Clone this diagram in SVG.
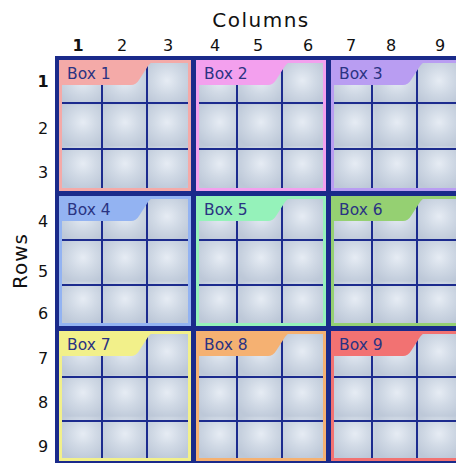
<svg xmlns="http://www.w3.org/2000/svg" width="456" height="463" viewBox="0 0 456 463">
<style>
  .lbl { font-family: "DejaVu Sans", "Open Sans", sans-serif; font-size: 15.5px; fill: #2a3382; }
  .num { font-family: "DejaVu Sans", "Open Sans", sans-serif; font-size: 16px; fill: #111; text-anchor: middle; }
  .big { font-family: "DejaVu Sans", "Open Sans", sans-serif; font-size: 20px; fill: #111; text-anchor: middle; }
  .grid { stroke: #1c2b8e; stroke-width: 2; fill: none; }
  .cells { fill: url(#cells); }
</style>
<defs>
  <radialGradient id="glow" cx="0.5" cy="0.42" r="0.65">
    <stop offset="0" stop-color="#e6ecf4"/>
    <stop offset="0.5" stop-color="#d0d9e5"/>
    <stop offset="1" stop-color="#bdc8d8"/>
  </radialGradient>
  <pattern id="cells" patternUnits="objectBoundingBox" width="0.33333" height="0.33333" patternContentUnits="objectBoundingBox">
    <rect width="0.33333" height="0.33333" fill="url(#glow)"/>
  </pattern>
  <path id="banner" d="M0 0 H97 Q93 1 89 6 L80 20 Q77 25 72 25 H0 Z"/>
</defs>
<rect width="456" height="463" fill="#ffffff"/>

<text class="big" x="261" y="27" letter-spacing="1.5">Columns</text>
<text class="big" transform="translate(27 261) rotate(-90)" letter-spacing="1">Rows</text>

<g id="col-labels">
  <text class="num" x="78" y="51" font-weight="bold" font-size="18">1</text>
  <text class="num" x="122" y="51">2</text>
  <text class="num" x="168" y="51">3</text>
  <text class="num" x="215" y="51">4</text>
  <text class="num" x="258" y="51">5</text>
  <text class="num" x="308" y="51">6</text>
  <text class="num" x="351" y="51">7</text>
  <text class="num" x="391" y="51">8</text>
  <text class="num" x="440" y="51">9</text>
</g>
<g id="row-labels">
  <text class="num" x="43" y="87" font-weight="bold" font-size="18">1</text>
  <text class="num" x="43" y="134">2</text>
  <text class="num" x="43" y="178">3</text>
  <text class="num" x="43" y="227">4</text>
  <text class="num" x="43" y="277">5</text>
  <text class="num" x="43" y="319">6</text>
  <text class="num" x="43" y="364">7</text>
  <text class="num" x="43" y="408">8</text>
  <text class="num" x="43" y="452">9</text>
</g>

<g id="frame">
  <rect x="55" y="56" width="420" height="420" fill="#1a2a8a"/>
</g>

<g id="box1" transform="translate(59 60)">
  <rect width="132" height="131" fill="#f4aaa8"/>
  <rect class="cells" x="3" y="3" width="126" height="125"/>
  <path class="grid" d="M43 3 V128 M88 3 V128 M3 43 H129 M3 89 H129"/>
  <use href="#banner" fill="#f4aaa8"/>
  <text class="lbl" x="8" y="19">Box 1</text>
</g>
<g id="box2" transform="translate(196 60)">
  <rect width="130" height="131" fill="#f3a0ee"/>
  <rect class="cells" x="3" y="3" width="124" height="125"/>
  <path class="grid" d="M41 3 V128 M86 3 V128 M3 43 H127 M3 89 H127"/>
  <use href="#banner" fill="#f3a0ee"/>
  <text class="lbl" x="8" y="19">Box 2</text>
</g>
<g id="box3" transform="translate(331 60)">
  <rect width="132" height="131" fill="#b99df2"/>
  <rect class="cells" x="3" y="3" width="126" height="125"/>
  <path class="grid" d="M41 3 V128 M86 3 V128 M3 43 H129 M3 89 H129"/>
  <use href="#banner" fill="#b99df2"/>
  <text class="lbl" x="8" y="19">Box 3</text>
</g>
<g id="box4" transform="translate(59 196)">
  <rect width="132" height="130" fill="#93b3f2"/>
  <rect class="cells" x="3" y="3" width="126" height="124"/>
  <path class="grid" d="M43 3 V127 M88 3 V127 M3 44 H129 M3 89 H129"/>
  <use href="#banner" fill="#93b3f2"/>
  <text class="lbl" x="8" y="19">Box 4</text>
</g>
<g id="box5" transform="translate(196 196)">
  <rect width="130" height="130" fill="#95f2ba"/>
  <rect class="cells" x="3" y="3" width="124" height="124"/>
  <path class="grid" d="M41 3 V127 M86 3 V127 M3 44 H127 M3 89 H127"/>
  <use href="#banner" fill="#95f2ba"/>
  <text class="lbl" x="8" y="19">Box 5</text>
</g>
<g id="box6" transform="translate(331 196)">
  <rect width="132" height="130" fill="#95d072"/>
  <rect class="cells" x="3" y="3" width="126" height="124"/>
  <path class="grid" d="M41 3 V127 M86 3 V127 M3 44 H129 M3 89 H129"/>
  <use href="#banner" fill="#95d072"/>
  <text class="lbl" x="8" y="19">Box 6</text>
</g>
<g id="box7" transform="translate(59 331)">
  <rect width="132" height="130" fill="#f2f08a"/>
  <rect class="cells" x="3" y="3" width="126" height="124"/>
  <path class="grid" d="M43 3 V127 M88 3 V127 M3 46 H129 M3 90 H129"/>
  <use href="#banner" fill="#f2f08a"/>
  <text class="lbl" x="8" y="19">Box 7</text>
</g>
<g id="box8" transform="translate(196 331)">
  <rect width="130" height="130" fill="#f5b172"/>
  <rect class="cells" x="3" y="3" width="124" height="124"/>
  <path class="grid" d="M41 3 V127 M86 3 V127 M3 46 H127 M3 90 H127"/>
  <use href="#banner" fill="#f5b172"/>
  <text class="lbl" x="8" y="19">Box 8</text>
</g>
<g id="box9" transform="translate(331 331)">
  <rect width="132" height="130" fill="#f27272"/>
  <rect class="cells" x="3" y="3" width="126" height="124"/>
  <path class="grid" d="M41 3 V127 M86 3 V127 M3 46 H129 M3 90 H129"/>
  <use href="#banner" fill="#f27272"/>
  <text class="lbl" x="8" y="19">Box 9</text>
</g>
</svg>
